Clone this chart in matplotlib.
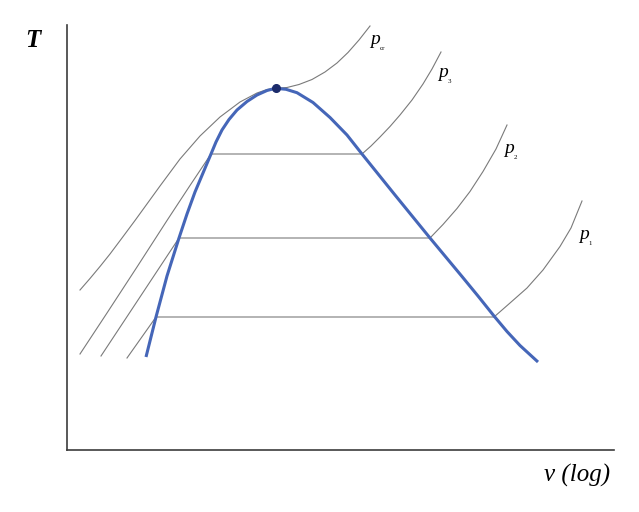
import matplotlib.pyplot as plt
import numpy as np

# x = log(v) in arbitrary units, T in arbitrary units (no ticks on the original)
dome_logv = [79, 89, 100, 112, 120, 128, 136, 144, 149, 155, 162, 170, 180, 190, 200, 208.5,
             219, 230, 246, 263, 280, 295, 328, 363, 395, 411, 427, 440, 453, 471]
dome_T = [93, 133, 174, 212, 236, 258, 277, 296, 308, 320, 330.5, 340, 348.5, 355, 359.5, 361.7,
          360.7, 357.3, 347.5, 332.5, 315, 296, 255, 212, 173.5, 154, 134, 118.5, 104.5, 88]

crit_logv = 208.5
crit_T = 361.7

pcr_logv = [13, 23, 33, 43, 55, 68, 93, 113, 133, 153, 173, 190, 200, 208.5,
            220, 232, 245, 258, 270, 281, 292, 303]
pcr_T = [160, 171.5, 183.5, 196, 212, 229.5, 264, 291, 314, 333, 348, 357, 360.5, 361.7,
         362.5, 365.5, 370.5, 378, 387, 397.5, 410, 424]

p3_logv = [13, 40, 70, 100, 122, 144, 295, 304, 313, 323, 333, 345, 356, 365, 374]
p3_T = [96, 137, 183, 229.5, 263, 296, 296, 304, 313, 323.5, 335, 350, 366, 381, 398]

p2_logv = [34, 112, 363, 376, 390, 403, 416, 429, 440]
p2_T = [94, 212, 212, 225.5, 241.5, 258.5, 278.5, 301, 325]

p1_logv = [60, 89, 427, 443, 460, 476, 493, 504, 515]
p1_T = [92, 133, 133, 147, 162, 180, 203.5, 222, 249]

labels = ["p", "p", "p", "p"]
subs = ["cr", "3", "2", "1"]
label_logv = [303, 371, 437, 512]
label_T = [406, 373.5, 297, 211]

fig = plt.figure(figsize=(6.39, 5.12), dpi=100)
ax = fig.add_axes([67 / 639, 62 / 512, 547 / 639, 425 / 512])

gray = "#7a7a7a"
for xs, ys in [(pcr_logv, pcr_T), (p3_logv, p3_T), (p2_logv, p2_T), (p1_logv, p1_T)]:
    ax.plot(xs, ys, color=gray, lw=0.8, solid_joinstyle="round")

ax.plot(dome_logv, dome_T, color="#4566b8", lw=2.2, solid_capstyle="butt",
        solid_joinstyle="round")
ax.plot(crit_logv, crit_T, "o", color="#1c2b6b", markersize=5.5)

for lab, sub, x, y in zip(labels, subs, label_logv, label_T):
    ax.text(x, y, lab, fontsize=14, family="Liberation Serif", style="italic",
            ha="left", va="baseline")
    ax.text(x + 9.5, y - 6, sub, fontsize=5, family="Liberation Serif",
            ha="left", va="baseline")

ax.set_xlim(0, 547)
ax.set_ylim(0, 425)
ax.set_xticks([])
ax.set_yticks([])
ax.spines["top"].set_visible(False)
ax.spines["right"].set_visible(False)
for s in ["left", "bottom"]:
    ax.spines[s].set_color("#3c3c3c")
    ax.spines[s].set_linewidth(1.2)

fig.text(25 / 639, (512 - 47) / 512, "T", fontsize=18, family="Liberation Serif",
         style="italic", weight="bold", ha="left", va="baseline")
fig.text(610 / 639, (512 - 482) / 512, "v (log)", fontsize=18, family="Liberation Serif",
         style="italic", ha="right", va="baseline")

fig.savefig("out.png", dpi=100)
